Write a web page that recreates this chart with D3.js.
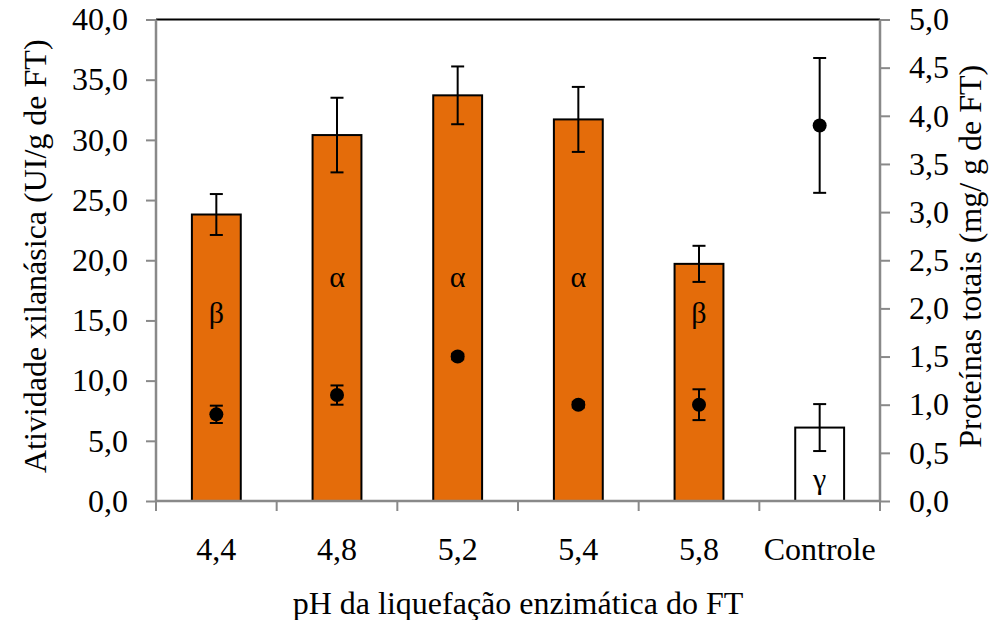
<!DOCTYPE html>
<html><head><meta charset="utf-8"><script src="https://cdn.jsdelivr.net/npm/d3@7"></script></head>
<body style="margin:0">
<svg id="chart" width="1004" height="620" style="display:block;background:#fff"></svg>
<script>
// ---- data ----
const categories = ["4,4", "4,8", "5,2", "5,4", "5,8", "Controle"];
const xylanase = [23.8, 30.4, 33.7, 31.7, 19.7, 6.1];
const xylanaseErr = [1.7, 3.1, 2.4, 2.7, 1.5, 1.95];
const protein = [0.90, 1.10, 1.50, 1.00, 1.00, 3.90];
const proteinErr = [0.09, 0.10, 0.03, 0.03, 0.16, 0.70];
const letters = ["β", "α", "α", "α", "β", "γ"];
const letterPos = [15.6, 18.6, 18.6, 18.6, 15.6, 1.8];
const leftTicks = [0, 5, 10, 15, 20, 25, 30, 35, 40];
const rightTicks = [0, 0.5, 1, 1.5, 2, 2.5, 3, 3.5, 4, 4.5, 5];
const barColors = ["#E46C0A", "#E46C0A", "#E46C0A", "#E46C0A", "#E46C0A", "#FFFFFF"];

const FONT = '"Liberation Serif"';
const svg = d3.select("#chart");
const pL = 156, pR = 880, pT = 19.5, pB = 501;
const fmt = v => v.toFixed(1).replace(".", ",");

const x = d3.scaleBand().domain(categories).range([pL, pR]).padding(0);
const yL = d3.scaleLinear().domain([0, 40]).range([pB, pT]);
const yR = d3.scaleLinear().domain([0, 5]).range([pB, pT]);
const bw = x.bandwidth() * 0.405;
const cx = c => x(c) + x.bandwidth() / 2;
const axisGray = "#898989";

svg.append("line").attr("x1", pL).attr("x2", pR).attr("y1", pT).attr("y2", pT)
  .attr("stroke", "#000").attr("stroke-width", 2);

const data = categories.map((c, i) => ({c, v: xylanase[i], e: xylanaseErr[i], p: protein[i], pe: proteinErr[i], l: letters[i], lp: letterPos[i], col: barColors[i]}));

svg.append("g").selectAll("rect").data(data).join("rect")
  .attr("x", d => cx(d.c) - bw / 2)
  .attr("width", bw)
  .attr("y", d => yL(d.v))
  .attr("height", d => yL(0) - yL(d.v))
  .attr("fill", d => d.col)
  .attr("stroke", "#000").attr("stroke-width", 2);

const capW = 13;
const eb = svg.append("g").attr("stroke", "#000").attr("stroke-width", 2);
data.forEach(d => {
  eb.append("line").attr("x1", cx(d.c)).attr("x2", cx(d.c)).attr("y1", yL(d.v + d.e)).attr("y2", yL(d.v - d.e));
  eb.append("line").attr("x1", cx(d.c) - capW / 2).attr("x2", cx(d.c) + capW / 2).attr("y1", yL(d.v + d.e)).attr("y2", yL(d.v + d.e));
  eb.append("line").attr("x1", cx(d.c) - capW / 2).attr("x2", cx(d.c) + capW / 2).attr("y1", yL(d.v - d.e)).attr("y2", yL(d.v - d.e));
});

data.forEach(d => {
  svg.append("text").attr("x", cx(d.c)).attr("y", yL(d.lp) + 10)
    .style("font-family", FONT).attr("font-size", 30)
    .attr("text-anchor", "middle").text(d.l);
});

const pb = svg.append("g").attr("stroke", "#000").attr("stroke-width", 2);
data.forEach(d => {
  pb.append("line").attr("x1", cx(d.c)).attr("x2", cx(d.c)).attr("y1", yR(d.p + d.pe)).attr("y2", yR(d.p - d.pe));
  pb.append("line").attr("x1", cx(d.c) - 6.5).attr("x2", cx(d.c) + 6.5).attr("y1", yR(d.p + d.pe)).attr("y2", yR(d.p + d.pe));
  pb.append("line").attr("x1", cx(d.c) - 6.5).attr("x2", cx(d.c) + 6.5).attr("y1", yR(d.p - d.pe)).attr("y2", yR(d.p - d.pe));
});
svg.append("g").selectAll("circle").data(data).join("circle")
  .attr("cx", d => cx(d.c)).attr("cy", d => yR(d.p)).attr("r", 7).attr("fill", "#000");

const gL = svg.append("g").attr("transform", `translate(${pL},0)`)
  .call(d3.axisLeft(yL).tickValues(leftTicks).tickFormat(fmt).tickSize(10).tickPadding(18));
const gR = svg.append("g").attr("transform", `translate(${pR},0)`)
  .call(d3.axisRight(yR).tickValues(rightTicks).tickFormat(fmt).tickSize(10).tickPadding(19));
const gB = svg.append("g").attr("transform", `translate(0,${pB})`)
  .call(d3.axisBottom(x).tickSize(0).tickPadding(36));

[gL, gR, gB].forEach(g => {
  g.attr("font-family", null).attr("font-size", null);
  g.selectAll(".domain").attr("stroke", axisGray).attr("stroke-width", 2.5);
  g.selectAll(".tick line").attr("stroke", axisGray).attr("stroke-width", 2);
  g.selectAll("text").style("font-family", FONT).attr("font-size", 32).attr("fill", "#000");
});
gL.select(".domain").attr("d", `M0,${pT}V${pB}`);
gR.select(".domain").attr("d", `M0,${pT}V${pB}`);
gB.select(".domain").attr("d", `M${pL},0H${pR}`);

const edges = categories.map(c => x(c)).concat([x(categories[categories.length - 1]) + x.bandwidth()]);
svg.append("g").selectAll("line").data(edges).join("line")
  .attr("x1", d => d).attr("x2", d => d).attr("y1", pB).attr("y2", pB + 10)
  .attr("stroke", axisGray).attr("stroke-width", 2);

svg.append("text").attr("x", (pL + pR) / 2).attr("y", 614)
  .style("font-family", FONT).attr("font-size", 32).attr("text-anchor", "middle")
  .text("pH da liquefação enzimática do FT");
svg.append("text").attr("transform", `translate(46,${(pT + pB) / 2 - 4}) rotate(-90)`)
  .style("font-family", FONT).attr("font-size", 32).attr("text-anchor", "middle")
  .text("Atividade xilanásica (UI/g de FT)");
svg.append("text").attr("transform", `translate(981,${(pT + pB) / 2 - 4}) rotate(-90)`)
  .style("font-family", FONT).attr("font-size", 32).attr("text-anchor", "middle")
  .text("Proteínas totais (mg/ g de FT)");
</script></body></html>
